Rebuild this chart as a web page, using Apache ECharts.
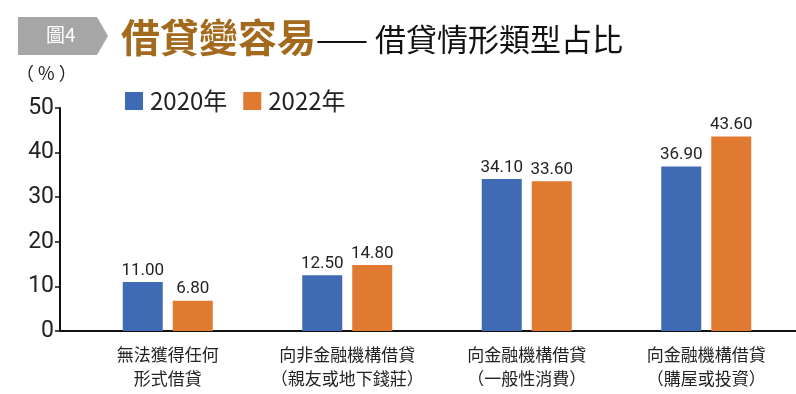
<!DOCTYPE html>
<html><head><meta charset="utf-8">
<script src="https://cdn.jsdelivr.net/npm/echarts@6/dist/echarts.min.js"></script>
<style>html,body{margin:0;padding:0;background:#fff}#c{width:796px;height:394px}</style>
</head><body><div id="c"></div>
<script>
const categories = ['無法獲得任何\n形式借貸', '向非金融機構借貸\n（親友或地下錢莊）', '向金融機構借貸\n（一般性消費）', '向金融機構借貸\n（購屋或投資）'];
const series2020 = [11.00, 12.50, 34.10, 36.90];
const series2022 = [6.80, 14.80, 33.60, 43.60];
const seriesNames = ['2020年', '2022年'];
const yTicks = [0, 10, 20, 30, 40, 50];

const chart = echarts.init(document.getElementById('c'), null, {renderer: 'canvas'});
const font = '"Noto Sans CJK TC", "Noto Sans", sans-serif';
const labelStyle = {show: true, position: 'top', distance: 3, fontSize: 17, color: '#222', fontFamily: 'Roboto, "Noto Sans", sans-serif', formatter: p => p.value.toFixed(2)};
chart.setOption({
  animation: false,
  backgroundColor: '#fff',
  textStyle: {fontFamily: font},
  grid: {left: 78, right: -2, top: 108, bottom: 63, containLabel: false},
  legend: {
    left: 120, top: 84, itemWidth: 18, itemHeight: 18, itemGap: 16, icon: 'rect',
    textStyle: {fontSize: 24, color: '#222', fontFamily: font, padding: [0, 0, 0, 2]},
    data: seriesNames
  },
  graphic: [
    {type: 'polygon', shape: {points: [[18, 17], [97, 17], [108, 36], [97, 55], [18, 55]]}, style: {fill: '#a6a6a6'}},
    {type: 'text', left: 46, top: 25, style: {text: '圖4', fill: '#fff', font: '19px "Noto Sans CJK TC", sans-serif'}},
    {type: 'text', left: 121, top: 18, style: {rich: {a: {fontSize: 39, fontWeight: 'bold', fill: '#a3691c', fontFamily: font}, b: {fontSize: 31, fill: '#111', fontFamily: font, padding: [4, 0, 0, 0]}}, text: '{a|借貸變容易}{b|—— 借貸情形類型占比}'}},
    {type: 'text', left: 16, top: 64, style: {text: '（ % ）', fill: '#222', font: '18px "Noto Sans CJK TC", sans-serif'}},
    {type: 'line', shape: {x1: 60, y1: 331, x2: 80, y2: 331}, style: {stroke: '#111', lineWidth: 2}}
  ],
  xAxis: {
    type: 'category', data: categories,
    axisLine: {lineStyle: {color: '#111', width: 2}},
    axisTick: {show: false},
    axisLabel: {fontSize: 17, lineHeight: 24, color: '#222', margin: 12, fontFamily: font, interval: 0}
  },
  yAxis: {
    type: 'value', min: yTicks[0], max: yTicks[yTicks.length - 1], interval: 10, offset: 18,
    axisLine: {show: true, lineStyle: {color: '#111', width: 2}},
    axisTick: {show: true, length: 5, lineStyle: {color: '#111', width: 1.5}},
    splitLine: {show: false},
    axisLabel: {fontSize: 23, color: '#222', margin: 6, fontFamily: 'Roboto, "Noto Sans", sans-serif'}
  },
  series: [
    {name: seriesNames[0], type: 'bar', data: series2020, barWidth: 40, barGap: '25%', itemStyle: {color: '#3e6bb4'}, label: labelStyle},
    {name: seriesNames[1], type: 'bar', data: series2022, barWidth: 40, barGap: '25%', itemStyle: {color: '#e07a31'}, label: labelStyle}
  ]
});
</script></body></html>
